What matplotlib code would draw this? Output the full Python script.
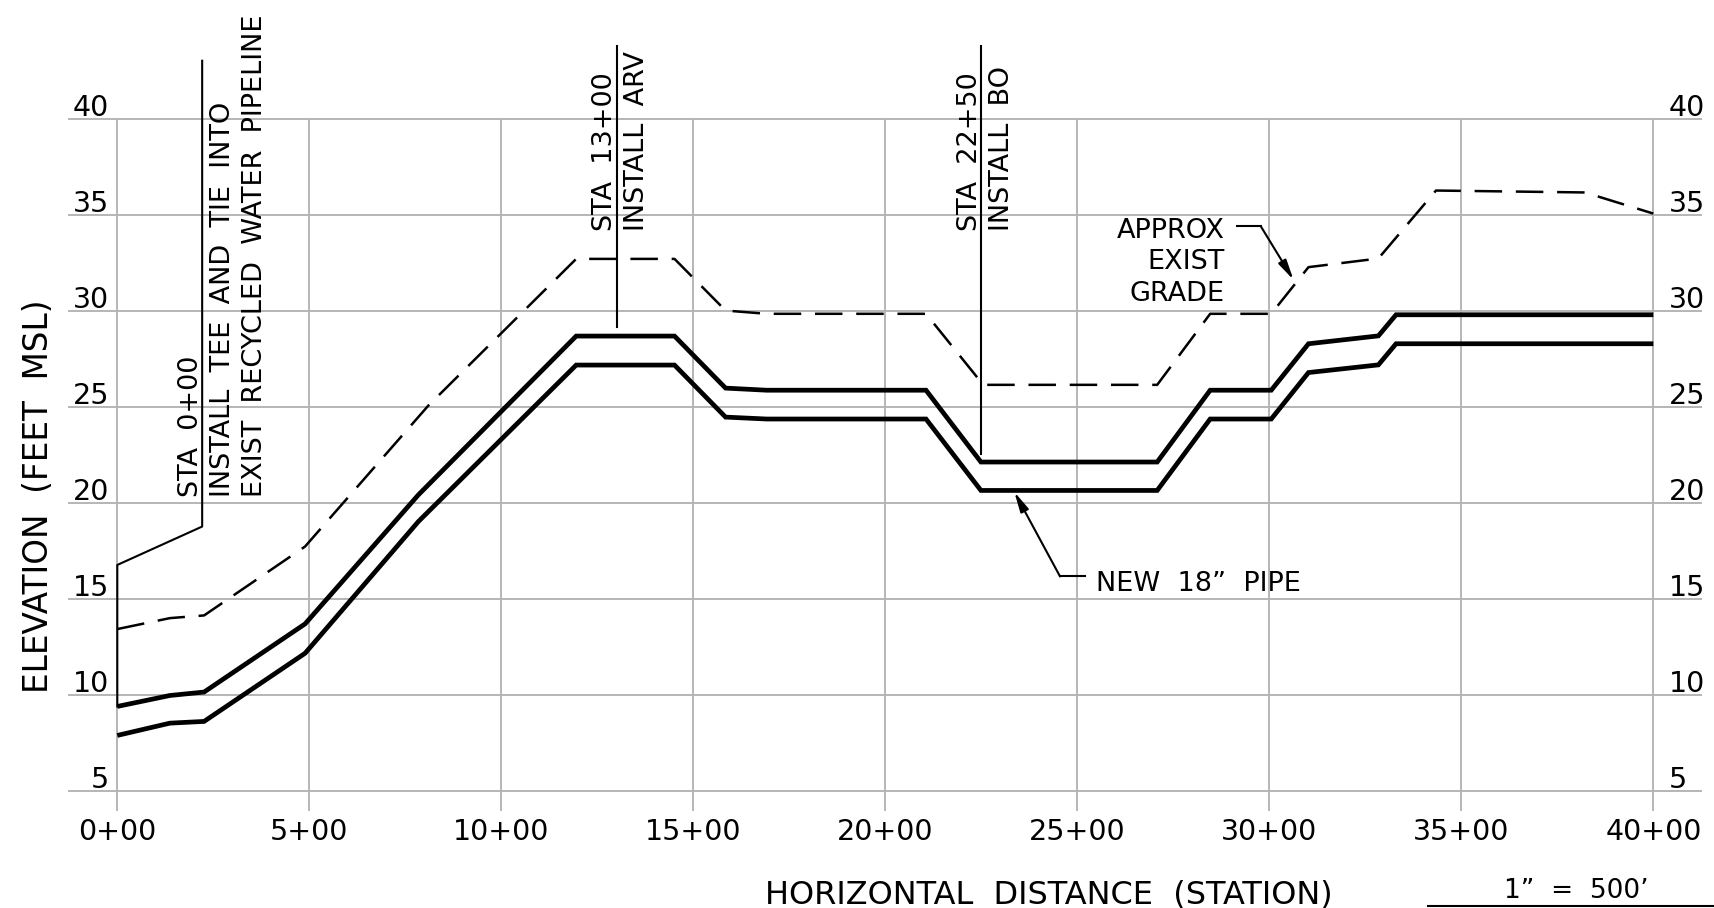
import matplotlib
matplotlib.use("Agg")
import matplotlib.pyplot as plt

plt.rcParams["font.family"] = ["DejaVu Sans"]

# --- profile data (station in 100 ft, elevation in ft MSL) ---
pipe_x = [0, 1.37, 2.26, 4.89, 7.84, 11.95, 14.51, 15.84, 16.91, 21.06,
          22.49, 27.08, 28.46, 30.05, 31.02, 32.84, 33.30, 40]
pipe_top = [9.43, 10.00, 10.18, 13.73, 20.45, 28.72, 28.72, 26.01, 25.90, 25.90,
            22.16, 22.16, 25.90, 25.90, 28.32, 28.73, 29.83, 29.83]
pipe_bot = [7.92, 8.56, 8.65, 12.20, 19.06, 27.21, 27.21, 24.50, 24.40, 24.40,
            20.68, 20.68, 24.40, 24.40, 26.82, 27.22, 28.32, 28.32]

grade_x = [0, 1.37, 2.26, 4.89, 8.10, 11.95, 14.51, 15.84, 16.91, 21.06,
           22.55, 27.08, 28.46, 30.05, 31.02, 32.84, 34.34, 38.22, 40]
grade_y = [13.46, 14.03, 14.17, 17.76, 25.10, 32.74, 32.74, 30.05, 29.88, 29.88,
           26.18, 26.18, 29.88, 29.88, 32.31, 32.76, 36.30, 36.20, 35.10]

station_ticks = [0, 5, 10, 15, 20, 25, 30, 35, 40]
station_labels = ["0+00", "5+00", "10+00", "15+00", "20+00",
                  "25+00", "30+00", "35+00", "40+00"]
elev_ticks = [5, 10, 15, 20, 25, 30, 35, 40]

# station call-outs
sta0_x = [0, 0, 2.21, 2.21]
sta0_y = [9.43, 16.8, 18.8, 43.06]
sta0_text = ["STA  0+00", "INSTALL  TEE  AND  TIE  INTO",
             "EXIST  RECYCLED  WATER  PIPELINE"]
sta13 = 13.0
sta13_text = ["STA  13+00", "INSTALL  ARV"]
sta22 = 22.5
sta22_text = ["STA  22+50", "INSTALL  BO"]
grade_text = ["APPROX", "EXIST", "GRADE"]

fig = plt.figure(figsize=(17.15, 9.08), dpi=100)
ax = fig.add_axes([0.03983, 0.10716, 0.95242, 0.85639])
ax.set_xlim(-1.276, 41.26)
ax.set_ylim(4.0, 44.5)
ax.axis("off")

# grid
grid_kw = dict(color="#b5b5b5", lw=1.4, zorder=1)
ax.vlines(station_ticks, 4.0, 40, **grid_kw)
ax.hlines(elev_ticks, -1.276, 41.26, **grid_kw)

# existing grade & new pipe
ax.plot(grade_x, grade_y, color="black", lw=1.8, linestyle=(0, (11, 5.5)),
        zorder=3)
for yy in (pipe_top, pipe_bot):
    ax.plot(pipe_x, yy, color="black", lw=3.4, solid_joinstyle="miter",
            solid_capstyle="butt", zorder=4)

# call-out lines
thin = dict(color="black", lw=1.5, zorder=5)
ax.plot(sta0_x, sta0_y, **thin)
ax.plot([sta13, sta13], [29.19, 43.85], **thin)
ax.plot([sta22, sta22], [22.57, 43.85], **thin)


# rotated call-out text
def vtext(x, y, s):
    ax.text(x, y, s, rotation=90, rotation_mode="anchor", ha="left",
            va="baseline", fontsize=19.5, zorder=6)


for dx, s in zip([2.11, 2.93, 3.78], sta0_text):
    vtext(dx, 20.32, s)
for dx, s in zip([12.89, 13.72], sta13_text):
    vtext(dx, 34.17, s)
for dx, s in zip([22.38, 23.23], sta22_text):
    vtext(dx, 34.17, s)

# approx exist grade label + leader
for yy, s in zip([33.85, 32.21, 30.56], grade_text):
    ax.text(28.83, yy, s, ha="right", va="baseline", fontsize=19.5)
ax.plot([29.15, 29.78], [34.43, 34.43], **thin)
arrow = dict(arrowstyle="-|>,head_length=1.0,head_width=0.22", lw=1.5,
             color="black", shrinkA=0, shrinkB=0, mutation_scale=12)
ax.annotate("", xy=(30.63, 31.65), xytext=(29.78, 34.43), arrowprops=arrow)

# new pipe label + leader
ax.text(25.49, 15.45, "NEW  18\u201d  PIPE", ha="left", va="baseline",
        fontsize=19.5)
ax.plot([25.2, 24.55], [16.2, 16.2], **thin)
ax.annotate("", xy=(23.36, 20.60), xytext=(24.55, 16.2), arrowprops=arrow)

# tick labels
for xv, lab in zip(station_ticks, station_labels):
    ax.text(xv, 2.45, lab, ha="center", va="baseline", fontsize=20.5)
for yv in elev_ticks:
    ax.text(-0.21, yv + 0.2, str(yv), ha="right", va="baseline", fontsize=20.5)
    ax.text(40.40, yv + 0.2, str(yv), ha="left", va="baseline", fontsize=20.5)

# axis titles
ax.text(-1.80, 20.37, "ELEVATION  (FEET  MSL)", rotation=90,
        rotation_mode="anchor", ha="center", va="baseline", fontsize=23.5)
ax.text(24.26, -0.82, "HORIZONTAL  DISTANCE  (STATION)", ha="center",
        va="baseline", fontsize=23)

# scale note
ax.text(38.0, -0.56, "1\u201d  =  500\u2019", ha="center", va="baseline",
        fontsize=19)
ax.plot([34.14, 41.6], [-0.96, -0.96], color="black", lw=1.5, clip_on=False)

fig.savefig("out.png", dpi=100, facecolor="white")
